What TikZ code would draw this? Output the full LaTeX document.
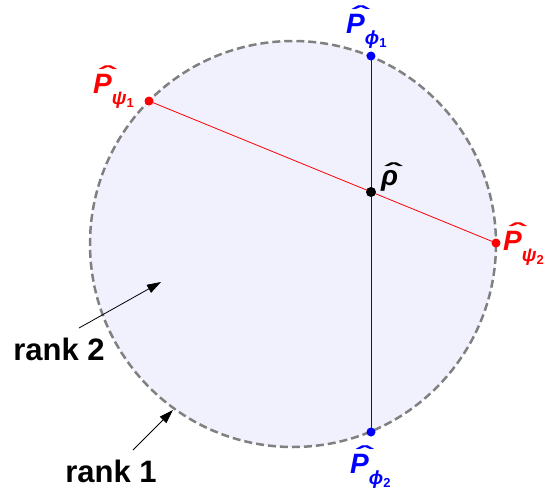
\documentclass[tikz,border=0pt]{standalone}
\usepackage{fontspec}
\setmainfont{Liberation Sans}
\usepackage{graphicx}
\usetikzlibrary{arrows.meta}
\definecolor{discfill}{RGB}{241,241,254}
\definecolor{rimgray}{RGB}{128,128,128}
\definecolor{projred}{RGB}{255,0,0}
\definecolor{projblue}{RGB}{0,0,255}
\newcommand{\bigfont}{\fontsize{28}{28}\selectfont\bfseries\itshape}
\newcommand{\subfont}{\fontsize{19}{19}\selectfont\bfseries\itshape}
\newcommand{\idxfont}{\fontsize{13}{13}\selectfont\bfseries\upshape}
\newcommand{\withhat}[3]{\rlap{\kern#2\raisebox{#3}{\upshape\scalebox{1.8}[0.8]{\char"02C6}}}#1}
\newcommand{\proj}[2]{\withhat{P}{0.2em}{0.36em}\raisebox{-0.4em}{\subfont #1\raisebox{-0.16em}{\idxfont #2}}}

\begin{document}
\begin{tikzpicture}[x=1pt,y=-1pt,>={Triangle[length=14pt,width=9pt]},
  lbl/.style={inner sep=0pt,anchor=base west,font=\bigfont},
  ranklbl/.style={inner sep=0pt,font=\fontsize{31}{31}\selectfont\bfseries}]
  \useasboundingbox (0,0) rectangle (550,491);
  % state disc
  \coordinate (O) at (293,244);
  \filldraw[fill=discfill,draw=rimgray,line width=2.5pt,dash pattern=on 8pt off 4pt] (O) circle (203);
  % pure states on the rim, mixed state inside
  \coordinate (Pphi1) at (371,56);
  \coordinate (Pphi2) at (371,432);
  \coordinate (Ppsi1) at (149,101);
  \coordinate (Ppsi2) at (496,243);
  \coordinate (rho) at (371,192);
  \draw[projred,line width=0.8pt] (Ppsi1) -- (Ppsi2);
  \draw[projblue,line width=0.8pt] (Pphi1) -- (Pphi2);
  \fill[projred] (Ppsi1) circle (4.5) (Ppsi2) circle (4.5);
  \fill[projblue] (Pphi1) circle (4.5) (Pphi2) circle (4.5);
  \fill (rho) circle (5);
  % labels
  \node[lbl,projblue] (lphi1) at (346,33) {\proj{ϕ}{1}};
  \node[lbl,projblue] (lphi2) at (350,473) {\proj{ϕ}{2}};
  \node[lbl,projred] (lpsi1) at (93,93) {\proj{ψ}{1}};
  \node[lbl,projred] (lpsi2) at (503,250) {\proj{ψ}{2}};
  \node[lbl] (lrho) at (381,185) {\withhat{ρ}{0.12em}{0.18em}};
  % rank arrows
  \node[ranklbl] (rank2) at (59,349) {rank 2};
  \node[ranklbl] (rank1) at (111,471) {rank 1};
  \coordinate (r2tail) at (79,328);
  \coordinate (r2head) at (161,282);
  \coordinate (r1tail) at (133,450);
  \coordinate (r1head) at (173,410);
  \draw[->,line width=0.8pt] (r2tail) -- (r2head);
  \draw[->,line width=0.8pt] (r1tail) -- (r1head);
\end{tikzpicture}
\end{document}
